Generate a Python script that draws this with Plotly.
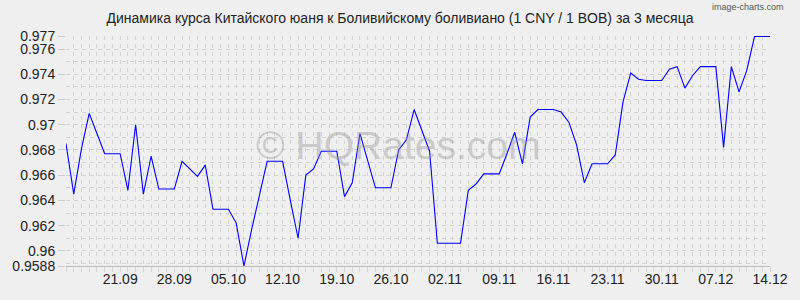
import pandas as pd
import plotly.graph_objects as go

# Daily data, 14.09 .. 14.12
start_date = "2025-09-14"
end_date = "2025-12-14"
rates = [
    0.9685, 0.9645, 0.9681, 0.9709, 0.9693, 0.9677, 0.9677, 0.9677, 0.9648, 0.9700,
    0.9645, 0.9675, 0.9649, 0.9649, 0.9649, 0.9671, 0.9665, 0.9659, 0.9668, 0.9633,
    0.9633, 0.9633, 0.9622, 0.9588, 0.9617, 0.9644, 0.9671, 0.9671, 0.9671, 0.9640,
    0.9610, 0.9660, 0.9665, 0.9679, 0.9679, 0.9679, 0.9643, 0.9654, 0.9693, 0.9671,
    0.9650, 0.9650, 0.9650, 0.9680, 0.9688, 0.9712, 0.9696, 0.9679, 0.9606, 0.9606,
    0.9606, 0.9606, 0.9648, 0.9653, 0.9661, 0.9661, 0.9661, 0.9677, 0.9694, 0.9669,
    0.9706, 0.9712, 0.9712, 0.9712, 0.9710, 0.9702, 0.9684, 0.9654, 0.9669, 0.9669,
    0.9669, 0.9676, 0.9718, 0.9741, 0.9736, 0.9735, 0.9735, 0.9735, 0.9744, 0.9746,
    0.9729, 0.9739, 0.9746, 0.9746, 0.9746, 0.9682, 0.9746, 0.9726, 0.9743, 0.9770,
    0.9770, 0.9770,
]
dates = pd.date_range(start_date, end_date, freq="D")

x_tick_dates = ["2025-09-21", "2025-09-28", "2025-10-05", "2025-10-12", "2025-10-19",
                "2025-10-26", "2025-11-02", "2025-11-09", "2025-11-16", "2025-11-23",
                "2025-11-30", "2025-12-07", "2025-12-14"]
x_tick_labels = ["21.09", "28.09", "05.10", "12.10", "19.10", "26.10", "02.11",
                 "09.11", "16.11", "23.11", "30.11", "07.12", "14.12"]
y_tick_vals = [0.977, 0.976, 0.974, 0.972, 0.970, 0.968, 0.966, 0.964, 0.962, 0.960, 0.9588]
y_tick_labels = ["0.977", "0.976", "0.974", "0.972", "0.97", "0.968", "0.966",
                 "0.964", "0.962", "0.96", "0.9588"]

title_text = "Динамика курса Китайского юаня к Боливийскому боливиано (1 CNY / 1 BOB) за 3 месяца"

BG = "#efefef"
GRID = "#d4d4d4"
FONT = "Liberation Sans, Arial, sans-serif"

fig = go.Figure()
fig.add_trace(go.Scatter(
    x=dates, y=rates, mode="lines",
    line=dict(color="#0000ff", width=1.1),
    hoverinfo="skip", showlegend=False,
))

fig.update_layout(
    width=800, height=300,
    margin=dict(l=60, r=21, t=36, b=34, pad=0),
    paper_bgcolor=BG, plot_bgcolor=BG,
    font=dict(family=FONT, size=14, color="#222222"),
    title=dict(text=title_text, x=0.5, xanchor="center", y=1 - 18 / 300,
               yanchor="middle", yref="container",
               font=dict(family=FONT, size=14, color="#222222")),
    xaxis=dict(
        type="date",
        range=[start_date, end_date],
        tickmode="array", tickvals=x_tick_dates, ticktext=x_tick_labels,
        showgrid=True, gridcolor=GRID, griddash="4px,4px", gridwidth=1,
        ticks="", showline=True, linecolor="#bbbbbb", linewidth=1,
        zeroline=False, fixedrange=True,
        tickfont=dict(size=14, color="#222222"),
        minor=dict(tick0=start_date, dtick=86400000, showgrid=True,
                   gridcolor=GRID, griddash="4px,4px", gridwidth=1,
                   ticks="outside", ticklen=5, tickcolor="#d8d8d8"),
    ),
    yaxis=dict(
        range=[0.9588, 0.97703],
        tickmode="array", tickvals=y_tick_vals, ticktext=y_tick_labels,
        showgrid=True, gridcolor=GRID, griddash="4px,4px", gridwidth=1,
        ticks="outside", ticklen=7, tickcolor="#cccccc",
        showline=False, zeroline=False, fixedrange=True,
        tickfont=dict(size=14, color="#222222"),
        minor=dict(tick0=0.960, dtick=0.001, showgrid=True,
                   gridcolor=GRID, griddash="4px,4px", gridwidth=1, ticks=""),
    ),
    annotations=[
        dict(text="© HQRates.com", xref="paper", yref="paper",
             x=0.4715, y=0.522, xanchor="center", yanchor="middle",
             showarrow=False,
             font=dict(family=FONT, size=39, color="rgba(150,150,150,0.42)")),
        dict(text="image-charts.com", xref="paper", yref="paper",
             x=(795 - 60) / 719, y=(266 - 7) / 230, xanchor="right", yanchor="middle",
             showarrow=False,
             font=dict(family=FONT, size=9, color="#555555")),
    ],
)

fig.write_html("out.html")
